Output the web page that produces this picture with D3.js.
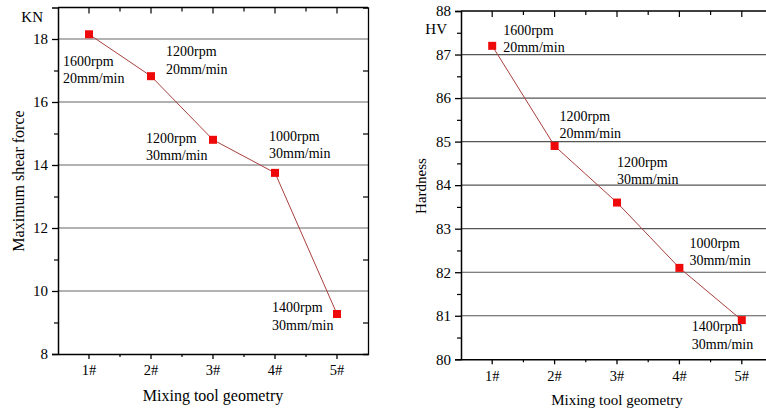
<!DOCTYPE html>
<html>
<head>
<meta charset="utf-8">
<script src="https://cdn.jsdelivr.net/npm/d3@7"></script>
<style>
  html, body { margin: 0; padding: 0; background: #fff; }
  svg { display: block; }
  text { font-family: "Liberation Serif", "Times New Roman", serif; fill: #000; }
</style>
</head>
<body>
<svg id="chart" width="766" height="414"></svg>
<script>
// Welding tool trials: shear force and hardness per tool geometry
const categories = ["1#", "2#", "3#", "4#", "5#"];
const shearForce = [18.15, 16.82, 14.8, 13.75, 9.27];   // KN
const hardness = [87.2, 84.9, 83.6, 82.1, 80.9];        // HV
const speedLabels = ["1600rpm", "1200rpm", "1200rpm", "1000rpm", "1400rpm"];
const feedLabels = ["20mm/min", "20mm/min", "30mm/min", "30mm/min", "30mm/min"];
const shearTicks = [8, 10, 12, 14, 16, 18];
const hardnessTicks = [80, 81, 82, 83, 84, 85, 86, 87, 88];

const svg = d3.select("#chart");

function drawPanel(cfg) {
  const g = svg.append("g");
  const x = d3.scaleBand().domain(categories).range([cfg.left, cfg.right]).paddingInner(0).paddingOuter(0);
  const y = d3.scaleLinear().domain(cfg.domain).range([cfg.bottom, cfg.top]);
  const cx = c => x(c) + x.bandwidth() / 2;
  const bounds = categories.slice(1).map(c => x(c));

  // grid lines at major ticks
  g.append("g").selectAll("line").data(cfg.ticks.filter(t => t > cfg.domain[0] && t < cfg.domain[1]))
    .join("line")
    .attr("x1", cfg.left).attr("x2", cfg.right)
    .attr("y1", d => y(d)).attr("y2", d => y(d))
    .attr("stroke", cfg.gridColor).attr("stroke-width", 1.2);

  // left axis
  const yAxis = d3.axisLeft(y).tickValues(cfg.ticks).tickSize(6).tickPadding(4).tickFormat(d3.format("d"));
  const ya = g.append("g").attr("transform", `translate(${cfg.left},0)`).call(yAxis);
  ya.select(".domain").attr("stroke", "#000").attr("stroke-width", 1.5);
  ya.selectAll(".tick line").attr("stroke", "#000").attr("stroke-width", 1.3);
  ya.selectAll(".tick text").attr("font-size", 15).attr("font-family", "Liberation Serif").attr("fill", "#000");
  g.append("g").attr("transform", `translate(${cfg.left},0)`)
    .call(d3.axisLeft(y).tickValues(cfg.minor).tickSize(4).tickFormat(""))
    .call(s => s.select(".domain").remove())
    .selectAll("line").attr("stroke", "#000").attr("stroke-width", 1.2);

  // right side minor ticks, pointing inward
  g.append("g").attr("transform", `translate(${cfg.right},0)`)
    .call(d3.axisRight(y).tickValues(cfg.minor).tickSize(-5).tickFormat(""))
    .call(s => s.select(".domain").attr("stroke", "#000").attr("stroke-width", 1.3))
    .selectAll("line").attr("stroke", "#000").attr("stroke-width", 1.2);

  // bottom axis
  const xAxis = d3.axisBottom(x).tickSize(5).tickPadding(6).tickSizeOuter(0);
  const xa = g.append("g").attr("transform", `translate(0,${cfg.bottom})`).call(xAxis);
  xa.select(".domain").attr("stroke", "#000").attr("stroke-width", 1.5);
  xa.selectAll(".tick line").attr("stroke", "#000").attr("stroke-width", 1.3);
  xa.selectAll(".tick text").attr("font-size", 14.5).attr("font-family", "Liberation Serif").attr("fill", "#000");
  g.append("g").selectAll("line").data(bounds).join("line")
    .attr("x1", d => d).attr("x2", d => d)
    .attr("y1", cfg.bottom).attr("y2", cfg.bottom + 3)
    .attr("stroke", "#000").attr("stroke-width", 1.2);

  // top border with inward ticks
  g.append("line").attr("x1", cfg.left).attr("x2", cfg.right)
    .attr("y1", cfg.top).attr("y2", cfg.top).attr("stroke", "#000").attr("stroke-width", 1.5);
  g.append("g").selectAll("line").data(categories.map(cx).concat(bounds)).join("line")
    .attr("x1", d => d).attr("x2", d => d)
    .attr("y1", cfg.top).attr("y2", (d, i) => cfg.top + (i < categories.length ? 6 : 4))
    .attr("stroke", "#000").attr("stroke-width", 1.2);

  // series line and markers
  const line = d3.line().x((d, i) => cx(categories[i])).y(d => y(d));
  g.append("path").datum(cfg.values).attr("d", line)
    .attr("fill", "none").attr("stroke", "#a8403c").attr("stroke-width", 1);
  g.append("g").selectAll("rect").data(cfg.values).join("rect")
    .attr("x", (d, i) => cx(categories[i]) - 4).attr("y", d => y(d) - 4)
    .attr("width", 8).attr("height", 8).attr("fill", "#ee0a0a");

  // process parameter labels beside each point
  const lab = g.append("g").selectAll("text").data(cfg.values).join("text")
    .attr("font-size", 14).attr("fill", "#000")
    .attr("x", (d, i) => cx(categories[i]) + cfg.offsets[i][0])
    .attr("y", (d, i) => y(d) + cfg.offsets[i][1]);
  lab.append("tspan").text((d, i) => speedLabels[i]);
  lab.append("tspan").attr("x", (d, i) => cx(categories[i]) + cfg.offsets[i][0]).attr("dy", 17.5)
    .text((d, i) => feedLabels[i]);

  // unit and axis titles
  g.append("text").attr("x", cfg.unitPos[0]).attr("y", cfg.unitPos[1]).attr("text-anchor", "end")
    .attr("font-size", 15).text(cfg.unit);
  g.append("text").attr("transform", `translate(${cfg.yTitlePos[0]},${cfg.yTitlePos[1]}) rotate(-90)`)
    .attr("text-anchor", "middle").attr("font-size", cfg.titleSize).text(cfg.yTitle);
  g.append("text").attr("x", cx(categories[2])).attr("y", cfg.xTitleY).attr("text-anchor", "middle")
    .attr("font-size", cfg.titleSize).text("Mixing tool geometry");
}

drawPanel({
  left: 58, right: 368, top: 7.5, bottom: 354,
  domain: [8, 19], ticks: shearTicks, minor: [9, 11, 13, 15, 17],
  values: shearForce, gridColor: "#666",
  offsets: [[-26, 31.5], [15, -20], [-67, 3], [-6, -32], [-65, -1.5]],
  unit: "KN", unitPos: [43, 22],
  yTitle: "Maximum shear force", yTitlePos: [24, 181], titleSize: 16, xTitleY: 401
});

drawPanel({
  left: 461, right: 773, top: 11, bottom: 359.3,
  domain: [80, 88], ticks: hardnessTicks, minor: [80.5, 81.5, 82.5, 83.5, 84.5, 85.5, 86.5, 87.5],
  values: hardness, gridColor: "#555",
  offsets: [[11, -11], [5, -25], [0, -36], [10, -20], [-50, 11]],
  unit: "HV", unitPos: [447, 34],
  yTitle: "Hardness", yTitlePos: [426, 186], titleSize: 15, xTitleY: 405
});
</script>
</body>
</html>
